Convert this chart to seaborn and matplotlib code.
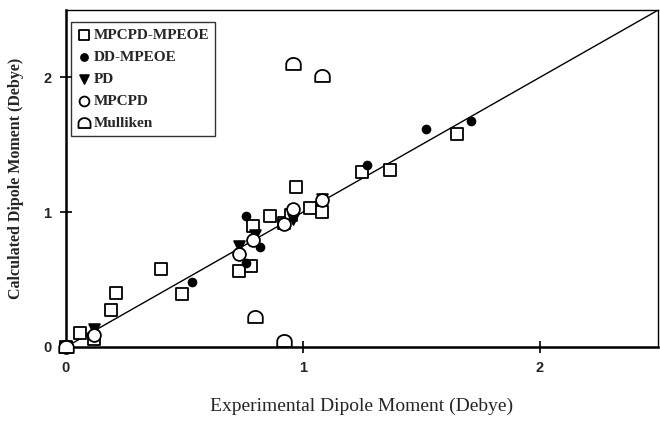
import numpy as np
import seaborn as sns
from matplotlib import pyplot as plt
from matplotlib.path import Path

# values (Debye)
mpcpd_mpeoe_x = [0.0, 0.06, 0.12, 0.19, 0.21, 0.40, 0.49, 0.73, 0.78, 0.79, 0.86, 0.92, 0.95, 0.97, 1.03, 1.08, 1.25, 1.37, 1.65]
mpcpd_mpeoe_y = [0.0, 0.10, 0.06, 0.27, 0.40, 0.58, 0.39, 0.56, 0.60, 0.90, 0.97, 0.92, 0.98, 1.19, 1.03, 1.00, 1.30, 1.31, 1.58]
dd_mpeoe_x = [0.0, 0.12, 0.53, 0.76, 0.76, 0.80, 0.82, 1.08, 1.27, 1.52, 1.71]
dd_mpeoe_y = [0.0, 0.11, 0.48, 0.97, 0.62, 0.80, 0.74, 1.10, 1.35, 1.62, 1.68]
pd_x = [0.0, 0.12, 0.73, 0.80, 0.92, 0.96, 1.08]
pd_y = [0.0, 0.13, 0.75, 0.83, 0.91, 0.95, 1.10]
mpcpd_x = [0.0, 0.12, 0.73, 0.79, 0.92, 0.96, 1.08]
mpcpd_y = [0.0, 0.09, 0.69, 0.79, 0.91, 1.02, 1.09]
mulliken_x = [0.0, 0.80, 0.92, 0.96, 1.08]
mulliken_y = [0.0, 0.22, 0.04, 2.10, 2.01]
ideal_line = [0.0, 2.5]
ticks = [0, 1, 2]

# dome marker for the Mulliken points
theta = np.linspace(0, np.pi, 20)
dome_verts = [(-1, -0.75), (1, -0.75)] + list(zip(np.cos(theta), np.sin(theta) * 0.9)) + [(-1, -0.75)]
dome = Path(dome_verts, closed=True)

sns.set_style("ticks")
fig = plt.figure(figsize=(6.6, 4.23), dpi=100)
ax = fig.add_axes([0.1, 0.18, 0.897, 0.796])

series = [
    ('MPCPD-MPEOE', mpcpd_mpeoe_x, mpcpd_mpeoe_y, 's', 'white', 75, 50),
    ('DD-MPEOE', dd_mpeoe_x, dd_mpeoe_y, 'o', 'black', 32, 25),
    ('PD', pd_x, pd_y, 'v', 'black', 60, 40),
    ('MPCPD', mpcpd_x, mpcpd_y, 'o', 'white', 85, 50),
    ('Mulliken', mulliken_x, mulliken_y, dome, 'white', 110, 75),
]

ax.plot(ideal_line, ideal_line, color='black', lw=1.0, zorder=1)
for name, xs, ys, mk, fc, size, _ in series:
    sns.scatterplot(x=xs, y=ys, marker=mk, s=size, facecolor=fc, edgecolor='black',
                    linewidth=1.3, label=name, ax=ax, zorder=3, clip_on=False)

ax.set_xlim(0, 2.5)
ax.set_ylim(0, 2.5)
ax.set_xticks(ticks)
ax.set_yticks(ticks)
ax.tick_params(direction='inout', length=9, width=1.2, color='black', pad=6)
for lab in ax.get_xticklabels() + ax.get_yticklabels():
    lab.set_fontfamily('Liberation Sans')
    lab.set_fontweight('bold')
    lab.set_fontsize(10.5)
for side in ['left', 'bottom']:
    ax.spines[side].set_linewidth(1.8)
for side in ['top', 'right']:
    ax.spines[side].set_linewidth(1.0)
for sp in ax.spines.values():
    sp.set_color('black')

ax.set_ylabel('Calculated Dipole Moment (Debye)', fontfamily='Liberation Serif',
              fontweight='bold', fontsize=11.5, labelpad=14)
ax.set_xlabel('Experimental Dipole Moment (Debye)', fontfamily='Liberation Serif',
              fontsize=14, labelpad=16)

leg = ax.legend(loc='upper left', bbox_to_anchor=(0.008, 0.965), frameon=True, fancybox=False,
                edgecolor='black', borderpad=0.4, labelspacing=0.55, handletextpad=0.1,
                handlelength=1.0, borderaxespad=0,
                prop={'family': 'Liberation Serif', 'weight': 'bold', 'size': 11})
leg.get_frame().set_linewidth(1.0)
for h, s in zip(leg.legend_handles, [item[6] for item in series]):
    h.set_sizes([s])

fig.savefig('out.png', dpi=100)
